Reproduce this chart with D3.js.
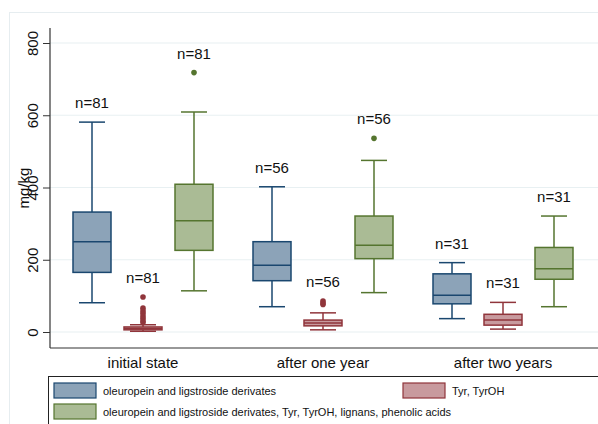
<!DOCTYPE html>
<html>
<head>
<meta charset="utf-8">
<script src="https://d3js.org/d3.v7.min.js"></script>
<style>
  body { margin: 0; background: #fff; }
  text { font-family: Arial, "Liberation Sans", sans-serif; fill: #111; }
</style>
</head>
<body>
<div id="chart"></div>
<script>
// categories and series
var categories = ["initial state", "after one year", "after two years"];
var series = ["oleuropein and ligstroside derivates", "Tyr, TyrOH",
  "oleuropein and ligstroside derivates, Tyr, TyrOH, lignans, phenolic acids"];
var yTicks = [0, 200, 400, 600, 800];

// box statistics per category, one value per series (blue, red, green)
var lowWhisker  = [[81, 2, 114], [70, 6, 109], [37, 8, 70]];
var q1          = [[165, 6, 226], [142, 17, 203], [78, 19, 146]];
var median      = [[250, 10, 308], [185, 25, 240], [102, 33, 175]];
var q3          = [[332, 14, 409], [250, 33, 321], [161, 49, 234]];
var highWhisker = [[581, 20, 609], [402, 53, 475], [192, 82, 321]];
var outliers    = [[[], [97, 66, 58, 52, 44, 38, 31, 26], [718]],
                   [[], [86, 80, 76], [536]],
                   [[], [], []]];
var counts      = [[81, 81, 81], [56, 56, 56], [31, 31, 31]];

var strokeCol = ["#1a476f", "#90353b", "#55752f"];
var fillCol = ["#8ca3b8", "#c89a9e", "#aabb95"];

var W = 598, H = 424;
var svg = d3.select("#chart").append("svg").attr("width", W).attr("height", H);

// outer faint frame
svg.append("rect").attr("x", 9.5).attr("y", 12.5).attr("width", 600).attr("height", 430)
  .attr("fill", "none").attr("stroke", "#e6edf0");

var y = d3.scaleLinear().domain([0, 800]).range([332, 43]);
var x = d3.scaleBand().domain(categories).range([53, 593]);
var xs = d3.scaleBand().domain(series).range([-76.5, 76.5]);
var axisX = 50, axisBottom = 348;
var boxW = 38, capW = 26;

// gridlines
svg.append("g").selectAll("line").data(yTicks).enter().append("line")
  .attr("x1", axisX).attr("x2", W)
  .attr("y1", function(d) { return y(d); }).attr("y2", function(d) { return y(d); })
  .attr("stroke", "#e8f0f2").attr("stroke-width", 1.2);

// y axis
var yAxis = svg.append("g").attr("transform", "translate(" + axisX + ",0)")
  .call(d3.axisLeft(y).tickValues(yTicks).tickSize(7).tickFormat(d3.format("d")));
yAxis.select(".domain").remove();
yAxis.selectAll(".tick line").attr("stroke", "#333");
yAxis.selectAll(".tick text")
  .attr("font-size", 15).attr("fill", "#111")
  .attr("transform", "rotate(-90)")
  .attr("x", 0).attr("y", -12).attr("dy", "0").attr("text-anchor", "middle");
svg.append("line").attr("x1", axisX).attr("x2", axisX).attr("y1", 28).attr("y2", axisBottom)
  .attr("stroke", "#333").attr("stroke-width", 1.2);
svg.append("line").attr("x1", axisX).attr("x2", W).attr("y1", axisBottom).attr("y2", axisBottom)
  .attr("stroke", "#333").attr("stroke-width", 1.2);

svg.append("text").attr("transform", "translate(29,188) rotate(-90)")
  .attr("text-anchor", "middle").attr("font-size", 15).text("mg/kg");

// category labels
svg.selectAll(".cat").data(categories).enter().append("text")
  .attr("x", function(d) { return x(d) + x.bandwidth() / 2; })
  .attr("y", 368).attr("text-anchor", "middle").attr("font-size", 15)
  .text(function(d) { return d; });

// boxes
categories.forEach(function(cat, ci) {
  series.forEach(function(s, si) {
    var cx = x(cat) + x.bandwidth() / 2 + xs(s) + xs.bandwidth() / 2;
    var g = svg.append("g");
    var col = strokeCol[si];
    // whiskers
    g.append("line").attr("x1", cx).attr("x2", cx)
      .attr("y1", y(highWhisker[ci][si])).attr("y2", y(q3[ci][si]))
      .attr("stroke", col).attr("stroke-width", 1.5);
    g.append("line").attr("x1", cx).attr("x2", cx)
      .attr("y1", y(q1[ci][si])).attr("y2", y(lowWhisker[ci][si]))
      .attr("stroke", col).attr("stroke-width", 1.5);
    [highWhisker[ci][si], lowWhisker[ci][si]].forEach(function(v) {
      g.append("line").attr("x1", cx - capW / 2).attr("x2", cx + capW / 2)
        .attr("y1", y(v)).attr("y2", y(v))
        .attr("stroke", col).attr("stroke-width", 1.5);
    });
    // box
    g.append("rect").attr("x", cx - boxW / 2).attr("width", boxW)
      .attr("y", y(q3[ci][si])).attr("height", y(q1[ci][si]) - y(q3[ci][si]))
      .attr("fill", fillCol[si]).attr("stroke", col).attr("stroke-width", 1.5);
    g.append("line").attr("x1", cx - boxW / 2).attr("x2", cx + boxW / 2)
      .attr("y1", y(median[ci][si])).attr("y2", y(median[ci][si]))
      .attr("stroke", col).attr("stroke-width", 1.5);
    // outliers
    g.selectAll("circle").data(outliers[ci][si]).enter().append("circle")
      .attr("cx", cx).attr("cy", function(d) { return y(d); }).attr("r", 2.8)
      .attr("fill", col);
    // count label
    var top = Math.max(highWhisker[ci][si], d3.max(outliers[ci][si]) || 0);
    g.append("text").attr("x", cx).attr("y", y(top) - 14)
      .attr("text-anchor", "middle").attr("font-size", 15)
      .text("n=" + counts[ci][si]);
  });
});

// legend
var legend = svg.append("g");
legend.append("rect").attr("x", 48.5).attr("y", 376.5).attr("width", 600).attr("height", 80)
  .attr("fill", "#fff").attr("stroke", "#222").attr("stroke-width", 1);
var legendPos = [[54, 383], [403, 383], [54, 404]];
series.forEach(function(s, si) {
  legend.append("rect").attr("x", legendPos[si][0]).attr("y", legendPos[si][1])
    .attr("width", 42).attr("height", 15)
    .attr("fill", fillCol[si]).attr("stroke", strokeCol[si]).attr("stroke-width", 1.2);
  legend.append("text").attr("x", legendPos[si][0] + 49).attr("y", legendPos[si][1] + 12)
    .attr("font-size", 11).text(s);
});
</script>
</body>
</html>
